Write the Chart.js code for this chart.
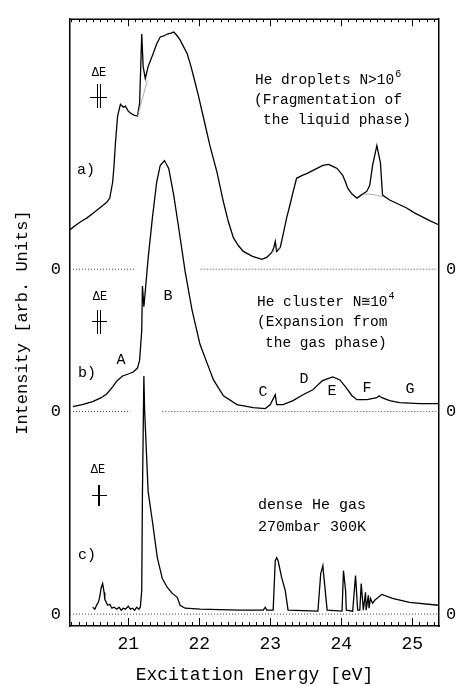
<!DOCTYPE html>
<html>
<head>
<meta charset="utf-8">
<script src="https://cdn.jsdelivr.net/npm/chart.js@4.4.1/dist/chart.umd.min.js"></script>
<style>
html, body { margin: 0; padding: 0; background: #fff; }
#wrap { width: 456px; height: 686px; position: relative; }
</style>
</head>
<body>
<div id="wrap"><canvas id="chart"></canvas></div>
<script>
// a) He droplets
const dropletE = [20.18, 20.25, 20.33, 20.42, 20.51, 20.58, 20.65, 20.70, 20.74, 20.78, 20.80, 20.82, 20.85, 20.89, 20.93, 20.96, 21.00, 21.03, 21.08, 21.13,
    21.16, 21.19, 21.21, 21.24, 21.28, 21.35, 21.40, 21.45, 21.50, 21.55, 21.60, 21.64, 21.68, 21.73, 21.78, 21.83, 21.88, 21.92, 21.99, 22.07,
    22.15, 22.25, 22.34, 22.41, 22.48, 22.55, 22.62, 22.75, 22.88, 22.95, 23.02, 23.05, 23.07, 23.09, 23.14, 23.18, 23.23, 23.28, 23.32, 23.37,
    23.45, 23.52, 23.63, 23.74, 23.82, 23.88, 23.94, 24.02, 24.06, 24.09, 24.15, 24.22, 24.30, 24.36, 24.40, 24.44, 24.50, 24.55, 24.58, 24.68,
    24.80, 24.92, 25.03, 25.14, 25.25, 25.37];
const dropletI = [0.40, 0.44, 0.48, 0.52, 0.57, 0.61, 0.65, 0.68, 0.72, 0.88, 1.05, 1.28, 1.55, 1.67, 1.64, 1.65, 1.60, 1.58, 1.56, 1.55,
    1.68, 2.38, 2.05, 1.93, 2.05, 2.18, 2.28, 2.35, 2.36, 2.38, 2.39, 2.40, 2.37, 2.32, 2.25, 2.18, 2.06, 1.95, 1.75, 1.50,
    1.25, 0.98, 0.68, 0.48, 0.32, 0.24, 0.18, 0.13, 0.10, 0.12, 0.17, 0.22, 0.28, 0.18, 0.22, 0.35, 0.52, 0.66, 0.78, 0.92,
    0.95, 0.97, 1.01, 1.05, 1.06, 1.04, 1.02, 0.95, 0.88, 0.82, 0.76, 0.72, 0.76, 0.79, 0.85, 1.05, 1.25, 1.08, 0.75, 0.70,
    0.66, 0.62, 0.57, 0.53, 0.49, 0.45];

// thin background traces under the sharp lines of a)
const dropletBgE = [21.13, 21.27, null, 23.02, 23.14, null, 24.30, 24.40, 24.50, 24.58];
const dropletBgI = [1.55, 1.91, null, 0.17, 0.22, null, 0.76, 0.76, 0.75, 0.73];

// b) He cluster
const clusterE = [20.22, 20.35, 20.50, 20.62, 20.70, 20.78, 20.84, 20.92, 21.00, 21.07, 21.13, 21.16, 21.19, 21.20, 21.22, 21.24, 21.28, 21.34, 21.40, 21.45,
    21.51, 21.57, 21.64, 21.71, 21.80, 21.90, 22.01, 22.11, 22.20, 22.34, 22.53, 22.76, 22.93, 23.00, 23.07, 23.09, 23.18, 23.32, 23.46, 23.60,
    23.67, 23.73, 23.80, 23.88, 23.98, 24.07, 24.15, 24.22, 24.36, 24.50, 24.53, 24.57, 24.68, 24.82, 25.10, 25.37];
const clusterI = [0.05, 0.07, 0.10, 0.14, 0.18, 0.25, 0.31, 0.36, 0.38, 0.40, 0.44, 0.52, 0.82, 1.27, 1.06, 1.22, 1.55, 1.96, 2.32, 2.49,
    2.54, 2.46, 2.19, 1.86, 1.42, 1.02, 0.68, 0.49, 0.32, 0.16, 0.07, 0.04, 0.03, 0.07, 0.17, 0.07, 0.07, 0.11, 0.17, 0.22,
    0.27, 0.31, 0.33, 0.35, 0.32, 0.24, 0.16, 0.12, 0.12, 0.14, 0.16, 0.14, 0.11, 0.09, 0.08, 0.08];

// c) dense He gas
const gasE = [20.50, 20.53, 20.56, 20.58, 20.60, 20.62, 20.64, 20.66, 20.67, 20.69, 20.71, 20.74, 20.77, 20.80, 20.84, 20.87, 20.90, 20.93, 20.96, 21.00,
    21.03, 21.06, 21.09, 21.12, 21.15, 21.17, 21.19, 21.20, 21.22, 21.23, 21.26, 21.28, 21.34, 21.41, 21.48, 21.55, 21.62, 21.69, 21.73, 21.80,
    22.01, 22.57, 22.90, 22.93, 22.95, 23.04, 23.07, 23.09, 23.11, 23.16, 23.21, 23.25, 23.67, 23.71, 23.74, 23.75, 23.80, 24.01, 24.03, 24.06,
    24.07, 24.16, 24.20, 24.23, 24.26, 24.28, 24.31, 24.34, 24.35, 24.38, 24.39, 24.41, 24.44, 24.47, 24.57, 24.72, 24.96, 25.37];
const gasI = [0.07, 0.05, 0.10, 0.12, 0.18, 0.27, 0.31, 0.22, 0.15, 0.12, 0.09, 0.10, 0.06, 0.07, 0.05, 0.07, 0.04, 0.06, 0.05, 0.08,
    0.05, 0.06, 0.04, 0.07, 0.05, 0.07, 0.24, 1.24, 2.41, 2.07, 1.57, 1.24, 0.94, 0.57, 0.36, 0.27, 0.21, 0.17, 0.09, 0.06,
    0.05, 0.04, 0.04, 0.07, 0.04, 0.04, 0.54, 0.57, 0.54, 0.37, 0.24, 0.04, 0.03, 0.41, 0.49, 0.41, 0.04, 0.03, 0.44, 0.24,
    0.04, 0.03, 0.39, 0.04, 0.04, 0.31, 0.04, 0.22, 0.04, 0.19, 0.06, 0.16, 0.11, 0.14, 0.20, 0.16, 0.12, 0.09];

// vertical offsets of the three zero lines (c, b, a)
const panelOffsets = [0, 2.05, 3.49];
// dotted zero lines are broken where other curves pass
const zeroLineBreaks = [null, [21.03, 21.48], [21.08, 22.02]];

const xTickValues = [21, 22, 23, 24, 25];
const xMin = 20.18, xMax = 25.375;

const FONT = '"Liberation Mono", "DejaVu Sans Mono", monospace';

function toPoints(es, is, offset) {
    return es.map((e, i) => ({ x: e, y: is[i] === null ? null : is[i] + offset }));
}

function zeroLine(offset, gap) {
    if (!gap) return [{ x: xMin, y: offset }, { x: xMax, y: offset }];
    return [{ x: xMin, y: offset }, { x: gap[0], y: offset }, { x: gap[0], y: null },
            { x: gap[1], y: offset }, { x: xMax, y: offset }];
}

const curveStyle = { borderColor: '#000', borderWidth: 1.3, pointRadius: 0, tension: 0, fill: false };
const dotStyle = { borderColor: '#444', borderWidth: 1, borderDash: [1, 2], pointRadius: 0, fill: false };

const datasets = [];
panelOffsets.forEach((off, i) => {
    datasets.push({ ...dotStyle, data: zeroLine(off, zeroLineBreaks[i]) });
});
datasets.push({ borderColor: '#999', borderWidth: 0.8, pointRadius: 0, fill: false,
    data: toPoints(dropletBgE, dropletBgI, panelOffsets[2]) });
datasets.push({ ...curveStyle, data: toPoints(gasE, gasI, panelOffsets[0]) });
datasets.push({ ...curveStyle, data: toPoints(clusterE, clusterI, panelOffsets[1]) });
datasets.push({ ...curveStyle, data: toPoints(dropletE, dropletI, panelOffsets[2]) });

// inward tick marks, top border and the text annotations
const framePlugin = {
    id: 'frame',
    afterDraw(chart) {
        const ctx = chart.ctx;
        const area = chart.chartArea;
        const xs = chart.scales.x;
        ctx.save();
        ctx.strokeStyle = '#000';
        ctx.lineWidth = 1.5;
        ctx.beginPath();
        ctx.moveTo(area.left, area.top);
        ctx.lineTo(area.right, area.top);
        ctx.stroke();

        ctx.lineWidth = 1;
        for (let k = 202; k <= 253; k++) {
            const px = Math.round(xs.getPixelForValue(k / 10)) + 0.5;
            const len = k % 10 === 0 ? 8 : 4;
            ctx.beginPath();
            ctx.moveTo(px, area.bottom);
            ctx.lineTo(px, area.bottom - len);
            ctx.moveTo(px, area.top);
            ctx.lineTo(px, area.top + len - 1);
            ctx.stroke();
        }

        ctx.fillStyle = '#000';
        ctx.textBaseline = 'middle';
        const text = (s, x, y, size, align) => {
            ctx.font = size + 'px ' + FONT;
            ctx.textAlign = align || 'left';
            ctx.fillText(s, x, y);
            return x + ctx.measureText(s).width;
        };

        // Delta E resolution markers
        text('\u0394E', 99, 73, 12, 'center');
        text('\u0394E', 100, 297, 12, 'center');
        text('\u0394E', 98, 470, 12, 'center');
        ctx.lineWidth = 1;
        ctx.beginPath();
        ctx.moveTo(90, 97.5); ctx.lineTo(107, 97.5);
        ctx.moveTo(97.5, 84); ctx.lineTo(97.5, 108);
        ctx.moveTo(100.5, 84); ctx.lineTo(100.5, 108);
        ctx.moveTo(92, 321.5); ctx.lineTo(107, 321.5);
        ctx.moveTo(97.5, 310); ctx.lineTo(97.5, 334);
        ctx.moveTo(100.5, 310); ctx.lineTo(100.5, 334);
        ctx.moveTo(92, 495.5); ctx.lineTo(107, 495.5);
        ctx.stroke();
        ctx.lineWidth = 2;
        ctx.beginPath();
        ctx.moveTo(99, 485); ctx.lineTo(99, 506);
        ctx.stroke();

        text('a)', 86, 170, 15, 'center');
        text('b)', 87, 373, 15, 'center');
        text('c)', 87, 555, 15, 'center');

        let end = text('He droplets N>10', 255, 80, 14.5);
        text('6', end + 1, 74, 10);
        text('(Fragmentation of', 254, 100, 14.5);
        text('the liquid phase)', 263, 120, 14.5);

        end = text('He cluster N\u224510', 257, 302, 14.5);
        text('4', end + 1, 296, 10);
        text('(Expansion from', 257, 322, 14.5);
        text('the gas phase)', 265, 343, 14.5);

        text('A', 121, 360, 15, 'center');
        text('B', 168, 296, 15, 'center');
        text('C', 263, 392, 15, 'center');
        text('D', 304, 379, 15, 'center');
        text('E', 332, 391, 15, 'center');
        text('F', 367, 388, 15, 'center');
        text('G', 410, 389, 15, 'center');

        text('dense He gas', 258, 505, 15);
        text('270mbar 300K', 258, 527, 15);
        ctx.restore();
    }
};

const zeroTicks = scale => { scale.ticks = panelOffsets.map(v => ({ value: v })); };

new Chart(document.getElementById('chart'), {
    type: 'line',
    data: { datasets: datasets },
    options: {
        responsive: true,
        maintainAspectRatio: false,
        animation: false,
        devicePixelRatio: 1,
        layout: { padding: { top: 12, right: 0, left: 0, bottom: 0 } },
        plugins: { legend: { display: false }, tooltip: { enabled: false } },
        scales: {
            x: {
                type: 'linear', position: 'bottom', min: xMin, max: xMax,
                grid: { display: false, drawTicks: false },
                border: { display: true, color: '#000', width: 1.5 },
                afterBuildTicks: s => { s.ticks = xTickValues.map(v => ({ value: v })); },
                afterFit: s => { s.height = 60; },
                ticks: { color: '#000', autoSkip: false, maxRotation: 0, padding: 7,
                    font: { family: FONT, size: 18 }, callback: v => String(v) },
                title: { display: true, text: 'Excitation Energy [eV]', color: '#000',
                    font: { family: FONT, size: 18 }, padding: { top: 0, bottom: 0 } }
            },
            y: {
                type: 'linear', position: 'left', min: -0.12, max: 6.02,
                grid: { display: false, drawTicks: false },
                border: { display: true, color: '#000', width: 1.5 },
                afterBuildTicks: zeroTicks,
                afterFit: s => { s.width = 70; },
                ticks: { color: '#000', padding: 9, font: { family: FONT, size: 17 }, callback: () => '0' },
                title: { display: true, text: 'Intensity [arb. Units]', color: '#000',
                    font: { family: FONT, size: 17 }, padding: { top: 12, bottom: 0 } }
            },
            y2: {
                type: 'linear', position: 'right', min: -0.12, max: 6.02,
                grid: { display: false, drawTicks: false },
                border: { display: true, color: '#000', width: 1.5 },
                afterBuildTicks: zeroTicks,
                afterFit: s => { s.width = 17; },
                ticks: { color: '#000', padding: 7, font: { family: FONT, size: 17 }, callback: () => '0' }
            }
        }
    },
    plugins: [framePlugin]
});
</script>
</body>
</html>
